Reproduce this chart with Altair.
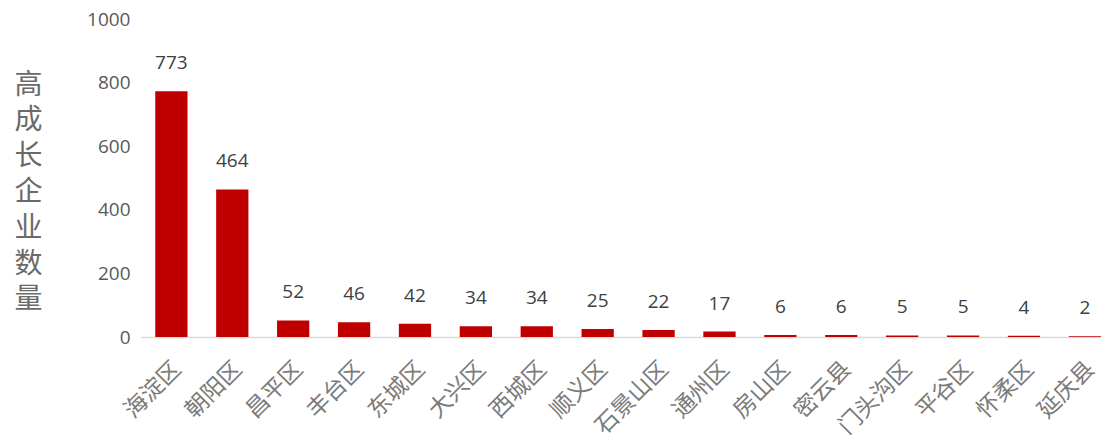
import altair as alt
import pandas as pd

districts = ["海淀区", "朝阳区", "昌平区", "丰台区", "东城区", "大兴区", "西城区", "顺义区",
             "石景山区", "通州区", "房山区", "密云县", "门头沟区", "平谷区", "怀柔区", "延庆县"]
counts = [773, 464, 52, 46, 42, 34, 34, 25, 22, 17, 6, 6, 5, 5, 4, 2]
y_title = ["高", "成", "长", "企", "业", "数", "量"]

df = pd.DataFrame({"district": districts, "count": counts})

x_scale = alt.Scale(paddingInner=0.47, paddingOuter=0.117, align=1)

bars = alt.Chart(df).mark_bar(color="#C00000").encode(
    x=alt.X("district:N", sort=districts, scale=x_scale,
            axis=alt.Axis(title=None, labelAngle=-45, labelAlign="right", labelBaseline="middle",
                          labelFont="Noto Sans CJK SC", labelFontSize=23, labelColor="#7a7a7a",
                          labelPadding=28, labelOffset=6, ticks=False,
                          domainColor="#d9d9d9", domainWidth=1.5)),
    y=alt.Y("count:Q", scale=alt.Scale(domain=[0, 1000]),
            axis=alt.Axis(values=[0, 200, 400, 600, 800, 1000], format="d", grid=False,
                          domain=False, ticks=False,
                          labelFont="Open Sans", labelFontSize=19, labelColor="#595959", labelPadding=11,
                          title=y_title, titleAngle=0, titleAlign="center", titleBaseline="top",
                          titleX=-113, titleY=52, titleFont="Noto Sans CJK SC", titleFontSize=28,
                          titleFontWeight="normal", titleColor="#6a6a6a", titleLineHeight=35.8))
)

labels = alt.Chart(df).mark_text(font="Open Sans", fontSize=19, color="#404040",
                                 baseline="middle", dy=-28).encode(
    x=alt.X("district:N", sort=districts, scale=x_scale),
    y=alt.Y("count:Q"),
    text="count:Q"
)

chart = (bars + labels).properties(
    width=960, height=318,
    autosize=alt.AutoSizeParams(type="none"),
    padding={"left": 133, "top": 11, "right": 0, "bottom": 100}
).configure_view(stroke=None)

chart.save("out.html", embed_options={"renderer": "svg", "actions": False})
